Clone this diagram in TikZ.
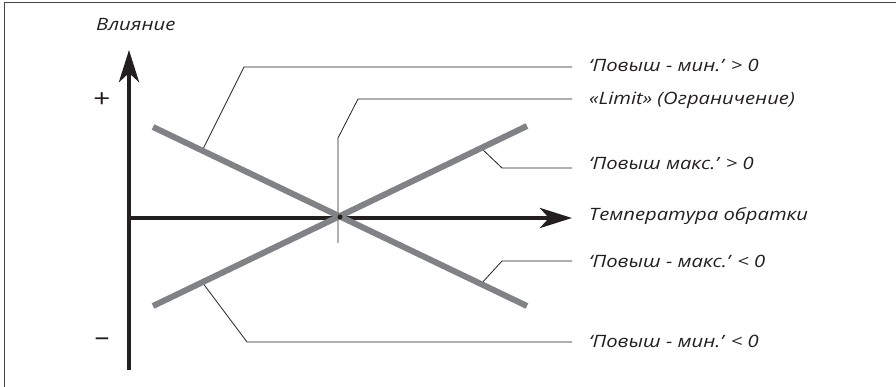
\documentclass[tikz,border=0pt]{standalone}
\usepackage{fontspec}
\usepackage{graphicx}
\setmainfont{Open Sans}
\usetikzlibrary{arrows.meta}
\definecolor{lineGray}{RGB}{128,130,133}
\definecolor{axisBlack}{RGB}{35,31,32}
\definecolor{frameGray}{RGB}{70,70,72}
\newcommand{\wtxt}[1]{\scalebox{1.19}[1]{#1}}
\begin{document}
\begin{tikzpicture}[x=1pt,y=-1pt,
  axisline/.style={line width=4.5pt, draw=axisBlack, -{Stealth[length=32pt,width=20pt,inset=9pt]}},
  grayline/.style={line width=6pt, draw=lineGray},
  leader/.style={line width=0.8pt, draw=axisBlack},
  lbl/.style={font=\itshape\fontsize{17}{20}\selectfont, inner sep=0pt, anchor=base west, text=axisBlack},
  sign/.style={font=\fontsize{25}{27}\selectfont, inner sep=0pt, text=axisBlack}
]
\useasboundingbox (0,0) rectangle (896,387);
% frame
\draw[line width=1.2pt, draw=frameGray] (4.5,387) -- (4.5,2.5) -- (896,2.5);

% coordinates
\coordinate (vB) at (129,370);
\coordinate (vT) at (129,50);
\coordinate (hL) at (127,218);
\coordinate (hR) at (572,218);
\coordinate (aS) at (153,127);
\coordinate (aE) at (527,306);
\coordinate (bS) at (153,306);
\coordinate (bE) at (527,126);
\coordinate (x0) at (340,217);

% leader points
\coordinate (p1) at (202,151);
\coordinate (k1) at (244,67);
\coordinate (e1) at (572,67);
\coordinate (p2) at (338,243);
\coordinate (k2a) at (338,138);
\coordinate (k2) at (358,99);
\coordinate (e2) at (572,99);
\coordinate (p3) at (481,148);
\coordinate (k3) at (502,168);
\coordinate (e3) at (572,168);
\coordinate (p4) at (481,284);
\coordinate (k4) at (502,261);
\coordinate (e4) at (572,261);
\coordinate (p5) at (202,282);
\coordinate (k5) at (247,342);
\coordinate (e5) at (572,342);

% labels (base west at baseline)
\node[lbl] (t1) at (589,72) {\wtxt{‘Повыш - мин.’ > 0}};
\node[lbl] (t2) at (589,105) {\wtxt{«Limit» (Ограничение)}};
\node[lbl] (t3) at (589,170) {\wtxt{‘Повыш макс.’ > 0}};
\node[lbl] (tx) at (589,221) {\wtxt{Температура обратки}};
\node[lbl] (t4) at (589,267) {\wtxt{‘Повыш - макс.’ < 0}};
\node[lbl] (t5) at (589,347) {\wtxt{‘Повыш - мин.’ < 0}};
\node[lbl] (ty) at (96,31) {\wtxt{Влияние}};
\node[sign] (plus) at (102,100) {\wtxt{+}};
\node[sign] (minus) at (102,342) {\wtxt{–}};

% leaders
\draw[leader] (p1) -- (k1) -- (e1);
\draw[leader] (p2) -- (k2a) -- (k2) -- (e2);
\draw[leader] (p3) -- (k3) -- (e3);
\draw[leader] (p4) -- (k4) -- (e4);
\draw[leader] (p5) -- (k5) -- (e5);

% axes
\draw[axisline] (vB) -- (vT);
\draw[axisline] (hL) -- (hR);

% gray lines
\draw[grayline] (aS) -- (aE);
\draw[grayline] (bS) -- (bE);

% crossing dot
\fill[axisBlack] (x0) circle (2.5);
\end{tikzpicture}
\end{document}
